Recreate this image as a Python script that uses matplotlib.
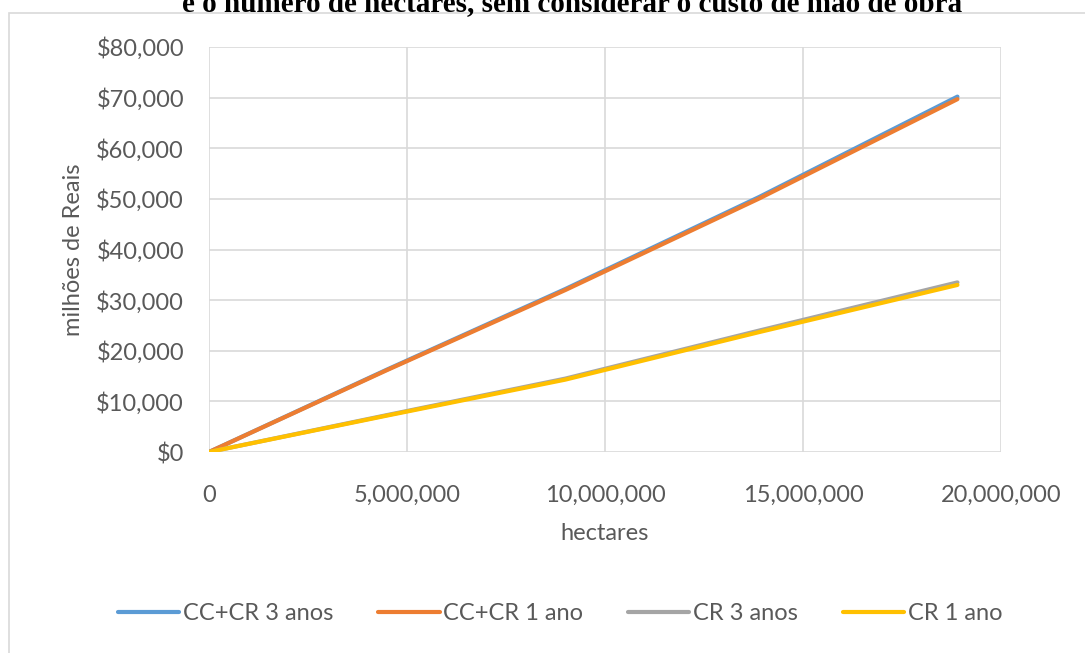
import matplotlib.pyplot as plt
from matplotlib.patches import Rectangle
from matplotlib.ticker import FuncFormatter, MultipleLocator

# values (hectares vs. millions of Reais)
hectares = [0, 4_500_000, 9_000_000, 13_900_000, 18_900_000]
cc_cr_3 = [0, 16300, 32200, 50400, 70200]
cc_cr_1 = [0, 16200, 32000, 50100, 69700]
cr_3 = [0, 7300, 14500, 24000, 33500]
cr_1 = [0, 7200, 14300, 23700, 33000]

series_labels = ['CC+CR 3 anos', 'CC+CR 1 ano', 'CR 3 anos', 'CR 1 ano']
series_colors = ['#5B9BD5', '#ED7D31', '#A5A5A5', '#FFC000']

title = 'e o número de hectares, sem considerar o custo de mão de obra'

plt.rcParams['font.family'] = ['Lato', 'DejaVu Sans']
txt = '#595959'

fig = plt.figure(figsize=(10.85, 6.53), dpi=100)

# chart frame (cut off on the right and bottom)
fig.patches.append(Rectangle((9 / 1085, -0.05), 1.2, 1 - 13 / 653 + 0.05,
                             transform=fig.transFigure, fill=False,
                             edgecolor='#D9D9D9', lw=1.2))

# clipped caption at the top
fig.text(572 / 1085, 1 - 11 / 653, title, ha='center', va='baseline',
         family='Liberation Serif', weight='bold', fontsize=21, color='black')

ax = fig.add_axes([209 / 1085, 1 - 452 / 653, 792 / 1085, 405 / 653])

for ys, lab, col in zip([cc_cr_3, cc_cr_1, cr_3, cr_1], series_labels, series_colors):
    ax.plot(hectares, ys, color=col, lw=3, label=lab, solid_capstyle='round')

ax.set_xlim(0, 20_000_000)
ax.set_ylim(0, 80000)
ax.xaxis.set_major_locator(MultipleLocator(5_000_000))
ax.yaxis.set_major_locator(MultipleLocator(10000))
ax.xaxis.set_major_formatter(FuncFormatter(lambda v, p: f'{v:,.0f}'))
ax.yaxis.set_major_formatter(FuncFormatter(lambda v, p: f'${v:,.0f}'))

ax.grid(True, color='#D9D9D9', lw=1.2)
ax.set_axisbelow(True)
for s in ax.spines.values():
    s.set_visible(False)
ax.tick_params(length=0, labelsize=17, colors=txt)
ax.tick_params(axis='y', pad=18)
ax.tick_params(axis='x', pad=24)

ax.set_xlabel('hectares', fontsize=17, color=txt, labelpad=12)
ax.set_ylabel('milhões de Reais', fontsize=17, color=txt, labelpad=9)

fig.legend(loc='center', bbox_to_anchor=(560 / 1085, 1 - 614 / 653), ncol=4,
           frameon=False, fontsize=17, labelcolor=txt, handlelength=2.6,
           handletextpad=0.15, columnspacing=1.9)

fig.savefig('out.png', dpi=100)
